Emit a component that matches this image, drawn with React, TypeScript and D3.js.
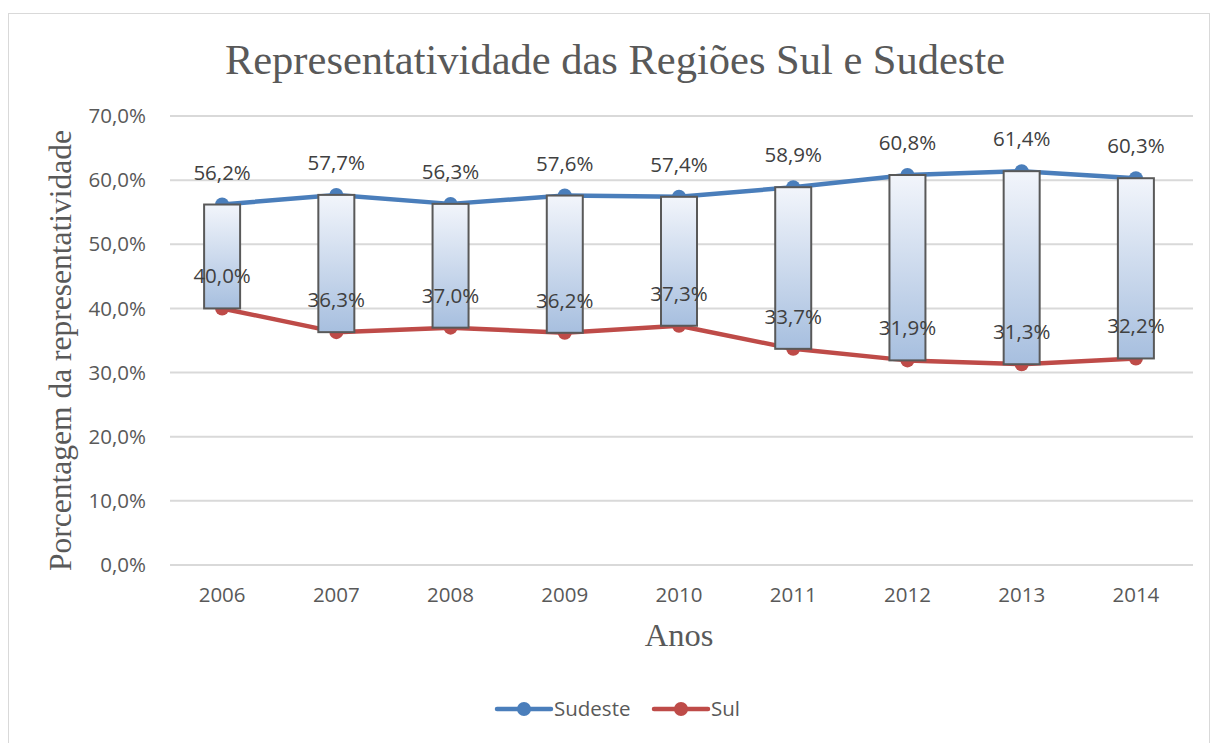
import React, { useEffect, useRef } from 'react';
import * as d3 from 'd3';

const years = ['2006', '2007', '2008', '2009', '2010', '2011', '2012', '2013', '2014'];
const sudeste = [56.2, 57.7, 56.3, 57.6, 57.4, 58.9, 60.8, 61.4, 60.3];
const sul = [40.0, 36.3, 37.0, 36.2, 37.3, 33.7, 31.9, 31.3, 32.2];
const yTicks = [0, 10, 20, 30, 40, 50, 60, 70];

const fmt = (v: number) => v.toFixed(1).replace('.', ',') + '%';

const App = () => {
  const ref = useRef<SVGSVGElement>(null);

  useEffect(() => {
    const svg = d3.select(ref.current);
    svg.selectAll('*').remove();

    const W = 1211;
    const H = 743;
    const margin = { top: 116, right: 18, bottom: 178, left: 165 };
    const width = W - margin.left - margin.right;
    const height = H - margin.top - margin.bottom;
    const sans = '"Open Sans", "Noto Sans", sans-serif';
    const serif = '"Liberation Serif", "Times New Roman", serif';
    const textColor = '#595959';
    const blue = '#4a7ebb';
    const red = '#be4b48';
    const fs = 20.5;

    const defs = svg.append('defs');
    const grad = defs.append('linearGradient')
      .attr('id', 'barGrad')
      .attr('x1', 0).attr('y1', 0).attr('x2', 0).attr('y2', 1);
    grad.append('stop').attr('offset', '0%').attr('stop-color', '#f2f5fb');
    grad.append('stop').attr('offset', '100%').attr('stop-color', '#a7bfdf');

    // chart border
    svg.append('rect')
      .attr('x', 8.5).attr('y', 13.5)
      .attr('width', W - 10).attr('height', H - 12)
      .attr('fill', '#fff')
      .attr('stroke', '#d9d9d9');

    svg.append('text')
      .attr('x', 615).attr('y', 74)
      .attr('text-anchor', 'middle')
      .attr('font-family', serif)
      .attr('font-size', 42.5)
      .attr('fill', textColor)
      .text('Representatividade das Regiões Sul e Sudeste');

    const g = svg.append('g').attr('transform', `translate(${margin.left},${margin.top})`);

    const x = d3.scaleBand().domain(years).range([0, width]);
    const y = d3.scaleLinear().domain([0, 70]).range([height, 0]);
    const cx = (d: string) => (x(d) as number) + x.bandwidth() / 2;

    // gridlines
    g.selectAll('.grid')
      .data(yTicks)
      .enter()
      .append('line')
      .attr('x1', 5).attr('x2', width)
      .attr('y1', d => y(d)).attr('y2', d => y(d))
      .attr('stroke', '#d9d9d9')
      .attr('stroke-width', 2);

    g.selectAll('.ytick')
      .data(yTicks)
      .enter()
      .append('text')
      .attr('x', -19)
      .attr('y', d => y(d))
      .attr('dy', '0.35em')
      .attr('text-anchor', 'end')
      .attr('font-family', sans)
      .attr('font-size', fs)
      .attr('fill', textColor)
      .text(d => fmt(d));

    g.selectAll('.xtick')
      .data(years)
      .enter()
      .append('text')
      .attr('x', d => cx(d))
      .attr('y', height + 37)
      .attr('text-anchor', 'middle')
      .attr('font-family', sans)
      .attr('font-size', fs)
      .attr('fill', textColor)
      .text(d => d);

    const series = [
      { name: 'Sudeste', values: sudeste, color: blue },
      { name: 'Sul', values: sul, color: red },
    ];

    const line = d3.line<number>()
      .x((_, i) => cx(years[i]))
      .y(d => y(d));

    series.forEach(s => {
      g.append('path')
        .datum(s.values)
        .attr('d', line)
        .attr('fill', 'none')
        .attr('stroke', s.color)
        .attr('stroke-width', 4.5)
        .attr('stroke-linejoin', 'round')
        .attr('stroke-linecap', 'round');
      g.selectAll(null)
        .data(s.values)
        .enter()
        .append('circle')
        .attr('cx', (_, i) => cx(years[i]))
        .attr('cy', d => y(d))
        .attr('r', 7)
        .attr('fill', s.color);
    });

    // up-down bars
    const barW = 36;
    g.selectAll('.bar')
      .data(years)
      .enter()
      .append('rect')
      .attr('x', d => cx(d) - barW / 2)
      .attr('y', (_, i) => y(Math.max(sudeste[i], sul[i])))
      .attr('width', barW)
      .attr('height', (_, i) => Math.abs(y(sul[i]) - y(sudeste[i])))
      .attr('fill', 'url(#barGrad)')
      .attr('stroke', '#595959')
      .attr('stroke-width', 2);

    // data labels
    series.forEach(s => {
      g.selectAll(null)
        .data(s.values)
        .enter()
        .append('text')
        .attr('x', (_, i) => cx(years[i]))
        .attr('y', d => y(d) - 25)
        .attr('text-anchor', 'middle')
        .attr('font-family', sans)
        .attr('font-size', fs)
        .attr('fill', '#404040')
        .text(d => fmt(d));
    });

    svg.append('text')
      .attr('transform', `translate(71,${margin.top + height / 2 + 10}) rotate(-90)`)
      .attr('text-anchor', 'middle')
      .attr('font-family', serif)
      .attr('font-size', 31.5)
      .attr('fill', textColor)
      .text('Porcentagem da representatividade');

    svg.append('text')
      .attr('x', margin.left + width / 2)
      .attr('y', 646)
      .attr('text-anchor', 'middle')
      .attr('font-family', serif)
      .attr('font-size', 32.5)
      .attr('fill', textColor)
      .text('Anos');

    // legend
    const legendItems = [
      { name: 'Sudeste', color: blue, x: 497 },
      { name: 'Sul', color: red, x: 654 },
    ];
    legendItems.forEach(l => {
      svg.append('line')
        .attr('x1', l.x).attr('x2', l.x + 54)
        .attr('y1', 709).attr('y2', 709)
        .attr('stroke', l.color)
        .attr('stroke-width', 4.5)
        .attr('stroke-linecap', 'round');
      svg.append('circle')
        .attr('cx', l.x + 27).attr('cy', 709).attr('r', 7)
        .attr('fill', l.color);
      svg.append('text')
        .attr('x', l.x + 57).attr('y', 709)
        .attr('dy', '0.35em')
        .attr('font-family', sans)
        .attr('font-size', fs)
        .attr('fill', textColor)
        .text(l.name);
    });
  }, []);

  return <svg ref={ref} width={1211} height={743} style={{ display: 'block', position: 'absolute', left: 0, top: 0 }}></svg>;
};

export default App;
